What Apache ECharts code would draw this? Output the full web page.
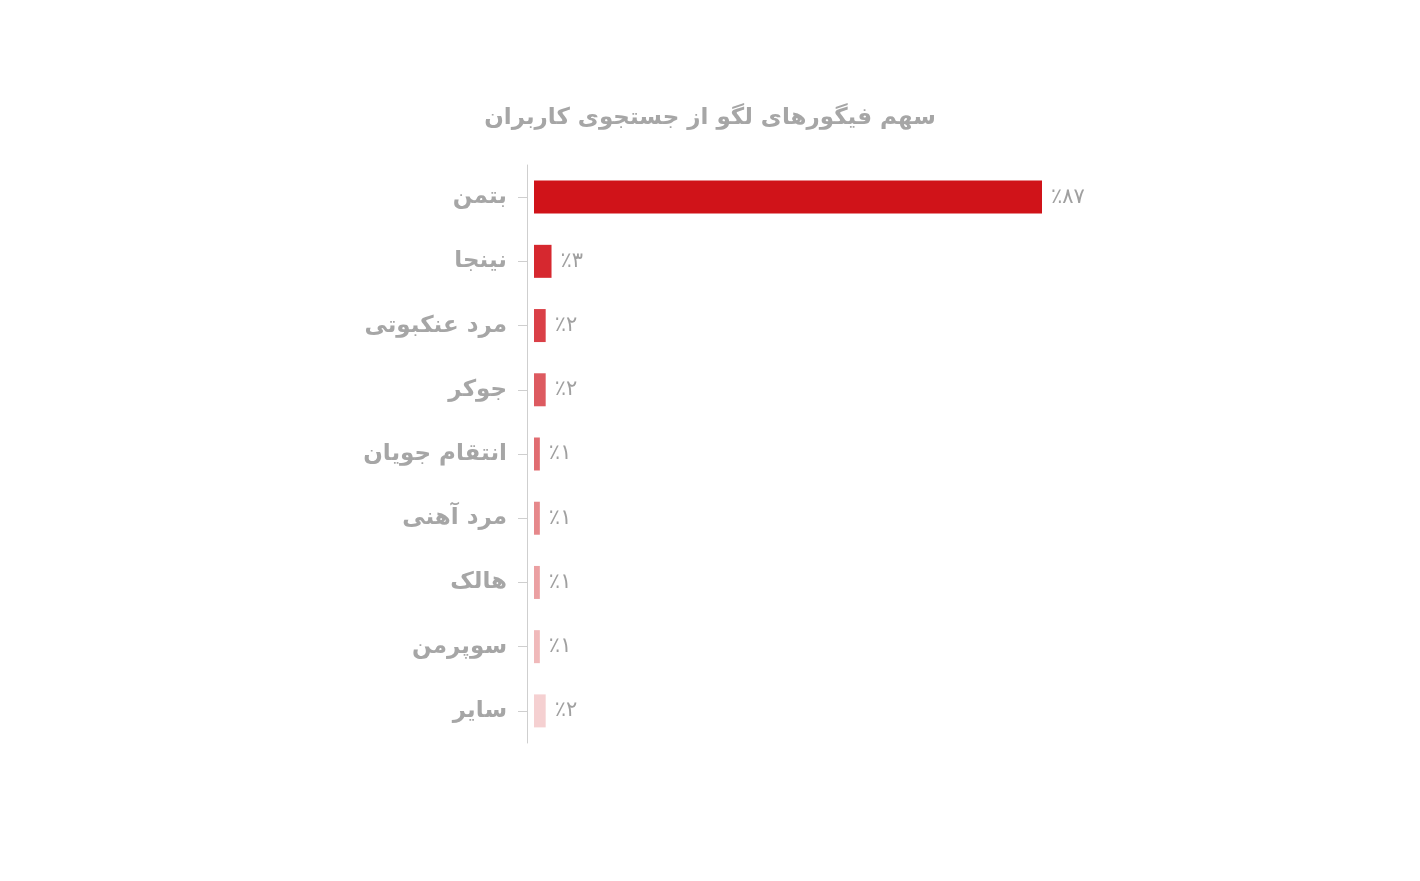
<!DOCTYPE html>
<html>
<head>
<meta charset="utf-8">
<script src="https://cdn.jsdelivr.net/npm/echarts@6/dist/echarts.min.js"></script>
<style>
    html, body { margin: 0; padding: 0; background: #fff; }
    #chart { width: 1420px; height: 881px; }
</style>
</head>
<body>
<div id="chart"></div>
<script>
// data
var categories = ['بتمن', 'نینجا', 'مرد عنکبوتی', 'جوکر', 'انتقام جویان', 'مرد آهنی', 'هالک', 'سوپرمن', 'سایر'];
var shares = [87, 3, 2, 2, 1, 1, 1, 1, 2];
var barColors = ['#d01319', '#d6282f', '#da4047', '#dd5a60', '#e16c71', '#e6888b', '#eba0a2', '#f0b9ba', '#f5d0d1'];

var faDigits = '۰۱۲۳۴۵۶۷۸۹';
function toFa(n) {
    return String(n).replace(/[0-9]/g, function (d) { return faDigits[+d]; });
}

var myChart = echarts.init(document.getElementById('chart'));

var option = {
    backgroundColor: '#fff',
    title: {
        text: 'سهم فیگورهای لگو از جستجوی کاربران',
        left: 'center',
        top: 102,
        textStyle: {
            fontFamily: 'DejaVu Sans',
            fontSize: 23,
            fontWeight: 'bold',
            color: '#a6a6a6'
        }
    },
    grid: {
        left: 527,
        width: 515,
        top: 165,
        height: 578
    },
    xAxis: {
        type: 'value',
        min: -1.2,
        max: 87,
        show: false
    },
    yAxis: {
        type: 'category',
        data: categories,
        inverse: true,
        axisLine: { show: true, onZero: false, lineStyle: { color: '#cfcfcf', width: 1 } },
        axisTick: { show: true, alignWithLabel: true, length: 9, lineStyle: { color: '#cfcfcf' } },
        axisLabel: {
            margin: 20,
            fontFamily: 'DejaVu Sans',
            fontSize: 23,
            fontWeight: 'bold',
            color: '#a6a6a6'
        }
    },
    series: [{
        type: 'bar',
        data: shares.map(function (v, i) {
            return { value: v, itemStyle: { color: barColors[i] } };
        }),
        barWidth: 33,
        label: {
            show: true,
            position: 'right',
            distance: 9,
            fontFamily: 'DejaVu Sans',
            fontSize: 21,
            color: '#a0a0a0',
            formatter: function (p) { return '٪' + toFa(p.value); }
        }
    }]
};
myChart.setOption(option);
</script>
</body>
</html>
